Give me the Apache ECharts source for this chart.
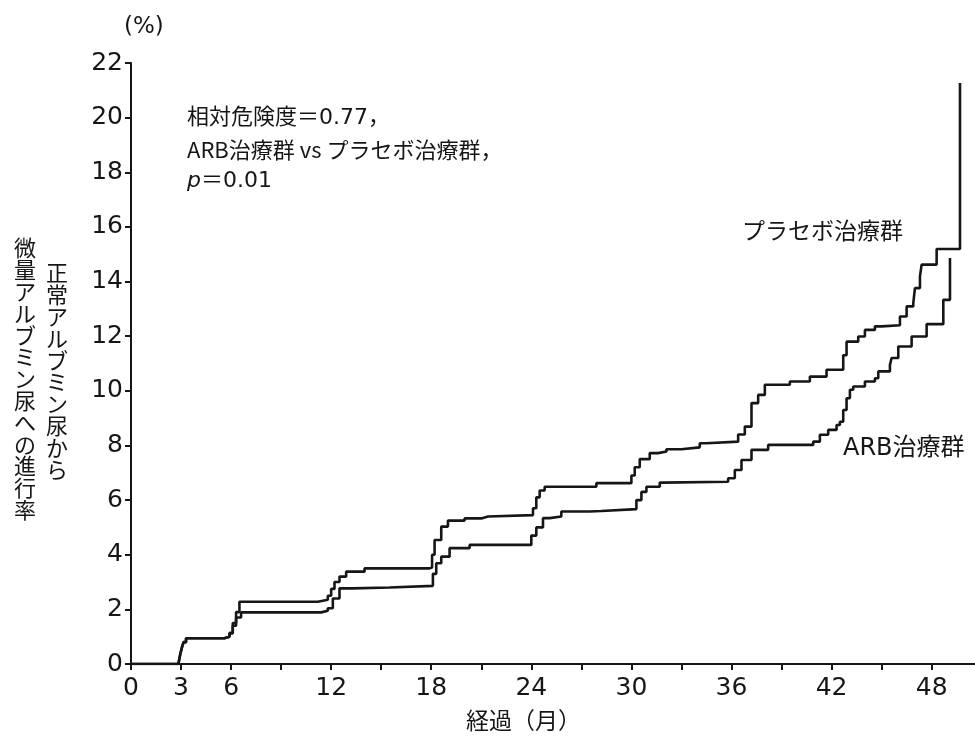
<!DOCTYPE html>
<html>
<head>
<meta charset="utf-8">
<script src="https://cdn.jsdelivr.net/npm/echarts@6/dist/echarts.min.js"></script>
<style>
html,body{margin:0;padding:0;background:#fff;}
#chart{width:975px;height:745px;}
</style>
</head>
<body>
<div id="chart"></div>
<script>
// ---- data (months, cumulative progression rate %) ----
const placeboMonths = [0, 2.84, 2.95, 3.05, 3.15, 3.3, 5.6, 5.9, 6.1, 6.3, 6.5, 11.2, 11.8, 12.0, 12.2, 12.5, 12.9, 14.0, 17.9, 18.05, 18.2, 18.6, 19.0, 20.0, 21.0, 21.4, 24.1, 24.3, 24.5, 24.8, 27.9, 30.0, 30.2, 30.5, 31.1, 31.6, 32.1, 33.0, 34.1, 34.5, 36.4, 36.8, 37.2, 37.6, 38.0, 39.5, 40.7, 41.7, 42.7, 42.9, 43.6, 44.0, 44.6, 45.0, 46.1, 46.5, 46.9, 47.0, 47.3, 47.4, 48.3, 49.7];
const placeboRates  = [0, 0, 0.35, 0.6, 0.8, 0.94, 1.0, 1.13, 1.5, 1.9, 2.28, 2.35, 2.5, 2.75, 3.0, 3.2, 3.38, 3.5, 3.53, 4.0, 4.54, 5.03, 5.25, 5.33, 5.4, 5.45, 5.7, 6.1, 6.35, 6.49, 6.62, 6.9, 7.2, 7.5, 7.72, 7.78, 7.86, 7.93, 8.08, 8.14, 8.4, 8.69, 9.55, 9.85, 10.22, 10.34, 10.52, 10.77, 11.3, 11.8, 11.99, 12.23, 12.36, 12.4, 12.72, 13.09, 13.21, 13.76, 14.19, 14.62, 15.19, 21.27];

const arbMonths = [0, 2.84, 2.95, 3.05, 3.15, 3.3, 5.6, 5.9, 6.1, 6.3, 6.6, 11.4, 11.8, 12.1, 12.5, 13.3, 15.5, 18.1, 18.3, 18.6, 19.1, 20.3, 24.0, 24.3, 24.7, 25.1, 25.8, 27.5, 28.2, 30.3, 30.6, 30.9, 31.7, 31.9, 35.8, 36.2, 36.6, 37.2, 38.2, 40.9, 41.3, 41.8, 42.3, 42.5, 42.7, 42.9, 43.1, 43.3, 44.0, 44.6, 44.8, 45.5, 45.6, 46.0, 46.8, 47.7, 48.7, 49.1];
const arbRates  = [0, 0, 0.35, 0.6, 0.8, 0.94, 1.0, 1.13, 1.4, 1.7, 1.89, 1.95, 2.04, 2.4, 2.77, 2.8, 2.86, 3.3, 3.69, 3.93, 4.24, 4.36, 4.7, 5.0, 5.34, 5.4, 5.58, 5.6, 5.67, 6.0, 6.3, 6.49, 6.64, 6.67, 6.8, 7.1, 7.47, 7.84, 8.02, 8.14, 8.39, 8.57, 8.75, 8.87, 9.3, 9.73, 10.04, 10.16, 10.34, 10.46, 10.71, 10.95, 11.2, 11.62, 11.99, 12.44, 13.33, 14.86];

const xTickValues  = [0, 3, 6, 9, 12, 15, 18, 21, 24, 27, 30, 33, 36, 39, 42, 45, 48];
const xLabelValues = [0, 3, 6, 12, 18, 24, 30, 36, 42, 48];
const yMin = 0, yMax = 22, yStep = 2;

const FONT = '"DejaVu Sans", "Noto Sans CJK JP", sans-serif';
const CJK = '"Noto Sans CJK JP", sans-serif';
const INK = '#161616';

const placeboData = placeboMonths.map((m, i) => [m, placeboRates[i]]);
const arbData = arbMonths.map((m, i) => [m, arbRates[i]]);

function vtext(str) { return str.split('').join('\n'); }

const chart = echarts.init(document.getElementById('chart'), null, {renderer: 'canvas'});
chart.setOption({
  animation: false,
  backgroundColor: '#fff',
  grid: {left: 131, top: 63, right: 0, bottom: 81, containLabel: false},
  xAxis: {
    type: 'value', min: 0, max: 50.6,
    axisLine: {lineStyle: {color: INK, width: 2}},
    axisTick: {show: true, inside: false, length: 6, lineStyle: {color: INK, width: 2}, customValues: xTickValues},
    axisLabel: {customValues: xLabelValues, color: INK, fontSize: 25, fontFamily: FONT, margin: 12},
    splitLine: {show: false}
  },
  yAxis: {
    type: 'value', min: yMin, max: yMax, interval: yStep,
    axisLine: {show: true, lineStyle: {color: INK, width: 2}},
    axisTick: {show: true, inside: false, length: 6, lineStyle: {color: INK, width: 2}},
    axisLabel: {color: INK, fontSize: 25, fontFamily: FONT, margin: 8},
    splitLine: {show: false}
  },
  series: [
    {name: 'プラセボ治療群', type: 'line', step: 'end', data: placeboData, showSymbol: false,
     lineStyle: {color: INK, width: 2.6}},
    {name: 'ARB治療群', type: 'line', step: 'end', data: arbData, showSymbol: false,
     lineStyle: {color: INK, width: 2.6}}
  ],
  graphic: [
    {type: 'text', left: 124, top: 16, style: {text: '(%)', font: '23px ' + FONT, fill: INK}},
    {type: 'text', left: 187, top: 107, style: {text: '相対危険度＝0.77，', font: '22px ' + FONT, fill: INK}},
    {type: 'text', left: 187, top: 139, style: {text: 'ARB治療群 vs プラセボ治療群，', font: '22px ' + CJK, fill: INK}},
    {type: 'text', left: 187, top: 170, style: {rich: {i: {fontStyle: 'italic', fontSize: 22, fontFamily: FONT, fill: INK}, n: {fontSize: 22, fontFamily: FONT, fill: INK}}, text: '{i|p}{n|＝0.01}'}},
    {type: 'text', left: 742, top: 219, style: {text: 'プラセボ治療群', font: '23px ' + CJK, fill: INK}},
    {type: 'text', left: 843, top: 437, style: {text: 'ARB治療群', font: '24px ' + FONT, fill: INK}},
    {type: 'text', left: 466, top: 709, style: {text: '経過（月）', font: '23px ' + CJK, fill: INK}},
    {type: 'text', left: 46, top: 262, style: {text: vtext('正常アルブミン尿から'), font: '22px ' + CJK, lineHeight: 21.8, fill: INK, align: 'center'}},
    {type: 'text', left: 14, top: 237, style: {text: vtext('微量アルブミン尿への進行率'), font: '22px ' + CJK, lineHeight: 21.8, fill: INK, align: 'center'}}
  ]
});
</script>
</body>
</html>
